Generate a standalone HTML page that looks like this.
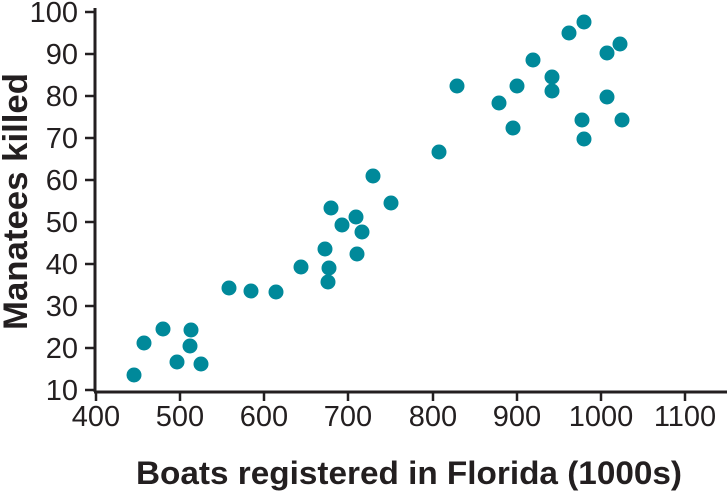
<!DOCTYPE html>
<html><head><meta charset="utf-8"><style>
html,body{margin:0;padding:0;background:#fff;width:727px;height:494px;overflow:hidden}
text{font-family:"Liberation Sans",sans-serif;fill:#231f20}
</style></head><body>
<svg width="727" height="494" viewBox="0 0 727 494" xmlns="http://www.w3.org/2000/svg">
<g stroke="#231f20" stroke-width="3" fill="none">
<line x1="95" y1="8" x2="95" y2="392"/>
<line x1="94" y1="392" x2="727" y2="392"/>
</g>
<g stroke="#231f20" stroke-width="2.5">
<line x1="96" y1="392" x2="96" y2="401"/>
<line x1="180" y1="392" x2="180" y2="401"/>
<line x1="264" y1="392" x2="264" y2="401"/>
<line x1="348" y1="392" x2="348" y2="401"/>
<line x1="433" y1="392" x2="433" y2="401"/>
<line x1="517" y1="392" x2="517" y2="401"/>
<line x1="601" y1="392" x2="601" y2="401"/>
<line x1="685" y1="392" x2="685" y2="401"/>
<line x1="85" y1="390" x2="95" y2="390"/>
<line x1="85" y1="348" x2="95" y2="348"/>
<line x1="85" y1="306" x2="95" y2="306"/>
<line x1="85" y1="264" x2="95" y2="264"/>
<line x1="85" y1="222" x2="95" y2="222"/>
<line x1="85" y1="180" x2="95" y2="180"/>
<line x1="85" y1="138" x2="95" y2="138"/>
<line x1="85" y1="96" x2="95" y2="96"/>
<line x1="85" y1="54" x2="95" y2="54"/>
<line x1="85" y1="12" x2="95" y2="12"/>
</g>
<g font-size="29" text-anchor="middle">
<text x="96" y="426">400</text><text x="180" y="426">500</text><text x="264" y="426">600</text><text x="348" y="426">700</text>
<text x="433" y="426">800</text><text x="517" y="426">900</text><text x="601" y="426">1000</text><text x="685" y="426">1100</text>
</g>
<g font-size="29" text-anchor="end">
<text x="78" y="400">10</text><text x="78" y="358">20</text><text x="78" y="316">30</text><text x="78" y="274">40</text>
<text x="78" y="232">50</text><text x="78" y="190">60</text><text x="78" y="148">70</text><text x="78" y="106">80</text>
<text x="78" y="64">90</text><text x="78" y="22">100</text>
</g>
<text x="136" y="484" font-size="32" font-weight="bold" textLength="546" lengthAdjust="spacingAndGlyphs">Boats registered in Florida (1000s)</text>
<text transform="translate(27,330) rotate(-90)" font-size="34" font-weight="bold" textLength="257" lengthAdjust="spacingAndGlyphs">Manatees killed</text>
<g fill="#00899a">
<circle cx="134" cy="375" r="7.5"/><circle cx="144" cy="343" r="7.5"/><circle cx="163" cy="329" r="7.5"/>
<circle cx="191" cy="330" r="7.5"/><circle cx="190" cy="346" r="7.5"/><circle cx="177" cy="362" r="7.5"/>
<circle cx="201" cy="364" r="7.5"/><circle cx="229" cy="288" r="7.5"/><circle cx="251" cy="291" r="7.5"/>
<circle cx="276" cy="292" r="7.5"/><circle cx="301" cy="267" r="7.5"/><circle cx="325" cy="249" r="7.5"/>
<circle cx="329" cy="268" r="7.5"/><circle cx="328" cy="282" r="7.5"/><circle cx="331" cy="208" r="7.5"/>
<circle cx="342" cy="225" r="7.5"/><circle cx="356" cy="217" r="7.5"/><circle cx="362" cy="232" r="7.5"/>
<circle cx="357" cy="254" r="7.5"/><circle cx="373" cy="176" r="7.5"/><circle cx="391" cy="203" r="7.5"/>
<circle cx="439" cy="152" r="7.5"/><circle cx="457" cy="86" r="7.5"/><circle cx="517" cy="86" r="7.5"/>
<circle cx="499" cy="103" r="7.5"/><circle cx="513" cy="128" r="7.5"/><circle cx="533" cy="60" r="7.5"/>
<circle cx="552" cy="77" r="7.5"/><circle cx="552" cy="91" r="7.5"/><circle cx="569" cy="33" r="7.5"/>
<circle cx="584" cy="22" r="7.5"/><circle cx="607" cy="53" r="7.5"/><circle cx="620" cy="44" r="7.5"/>
<circle cx="607" cy="97" r="7.5"/><circle cx="582" cy="120" r="7.5"/><circle cx="622" cy="120" r="7.5"/>
<circle cx="584" cy="139" r="7.5"/>
</g>
</svg>
</body></html>
